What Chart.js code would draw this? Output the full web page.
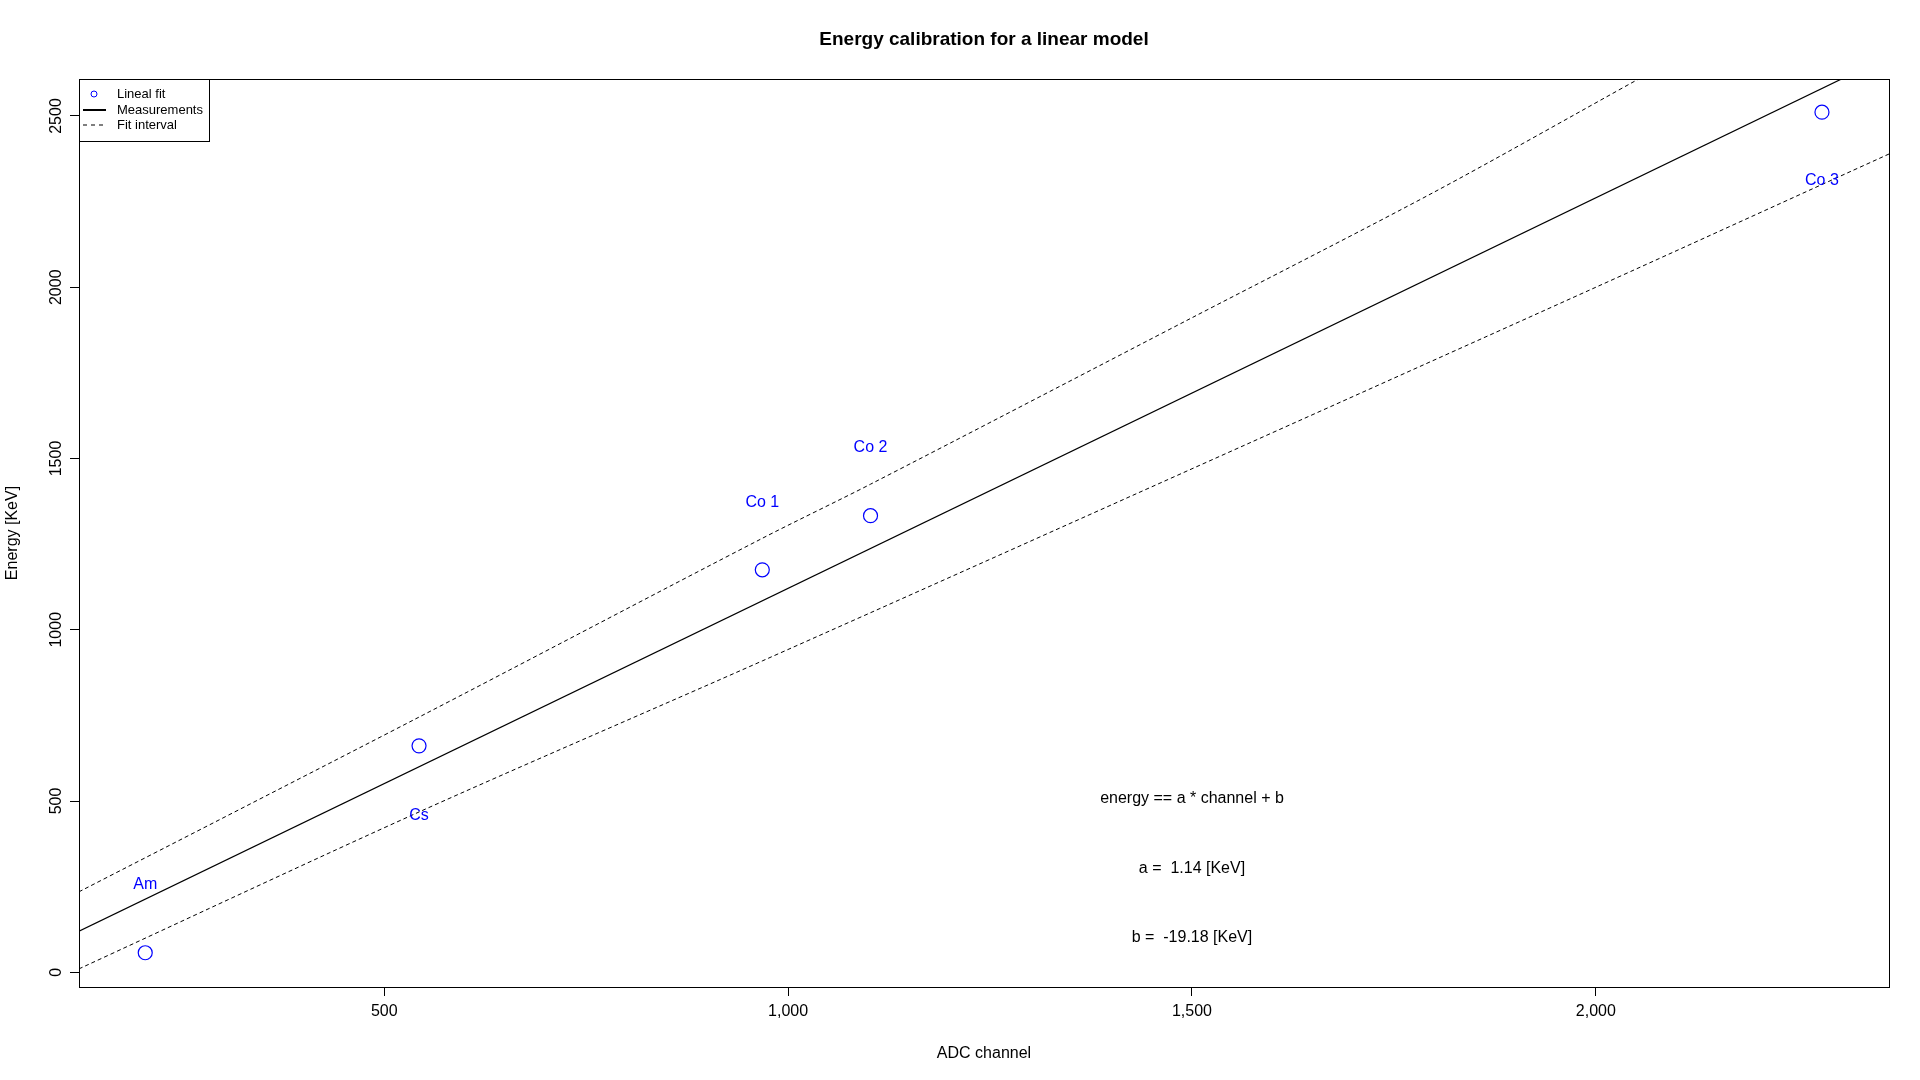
<!DOCTYPE html>
<html>
<head>
<script src="https://cdn.jsdelivr.net/npm/chart.js@4"></script>
<style>
  body { margin: 0; background: #fff; }
  #wrap { width: 1920px; height: 1080px; }
</style>
</head>
<body>
<div id="wrap"><canvas id="calib"></canvas></div>
<script>
// measured peaks
const sources = ['Am', 'Cs', 'Co 1', 'Co 2', 'Co 3'];
const channels = [204, 543, 968, 1102, 2280];
const energies = [57, 661, 1175, 1333, 2511];
const labelOffsets = [198, -205, 197, 200, -200];

// fit line and interval
const fitX = [122, 2363];
const fitY = [120, 2675];
const upperX = [122, 543, 968, 1102, 1500, 1800, 2053];
const upperY = [235, 745, 1267, 1425, 1911, 2278, 2608];
const lowerX = [122, 543, 968, 1500, 2000, 2363];
const lowerY = [10, 468, 909, 1470, 2000, 2389];

const xTicks = [500, 1000, 1500, 2000];
const yTicks = [0, 500, 1000, 1500, 2000, 2500];

const notes = [
    { x: 1500, y: 507, text: 'energy == a * channel + b' },
    { x: 1500, y: 302, text: 'a =  1.14 [KeV]' },
    { x: 1500, y: 101, text: 'b =  -19.18 [KeV]' }
];

const FONT = '"Liberation Sans", Arial, sans-serif';

function pts(xs, ys) {
    return xs.map((x, i) => ({ x: x, y: ys[i] }));
}

const decorPlugin = {
    id: 'decor',
    afterDraw(chart) {
        const ctx = chart.ctx;
        const a = chart.chartArea;
        const xs = chart.scales.x;
        const ys = chart.scales.y;
        ctx.save();
        // frame
        ctx.strokeStyle = '#000';
        ctx.lineWidth = 1;
        ctx.strokeRect(a.left + 0.5, a.top + 0.5, a.right - a.left, a.bottom - a.top);

        // y tick labels, rotated like R
        ctx.fillStyle = '#000';
        ctx.font = '16px ' + FONT;
        ctx.textAlign = 'center';
        ctx.textBaseline = 'bottom';
        yTicks.forEach(v => {
            const py = ys.getPixelForValue(v);
            ctx.save();
            ctx.translate(a.left - 14, py);
            ctx.rotate(-Math.PI / 2);
            ctx.fillText(String(v), 0, 0);
            ctx.restore();
        });

        // axis titles
        ctx.textBaseline = 'middle';
        ctx.fillText('ADC channel', (a.left + a.right) / 2, 1054);
        ctx.save();
        ctx.translate(13, (a.top + a.bottom) / 2);
        ctx.rotate(-Math.PI / 2);
        ctx.fillText('Energy [KeV]', 0, 0);
        ctx.restore();

        // title
        ctx.font = 'bold 19px ' + FONT;
        ctx.fillText('Energy calibration for a linear model', (a.left + a.right) / 2, 40);

        // point labels
        ctx.font = '16px ' + FONT;
        ctx.fillStyle = '#0000ff';
        sources.forEach((s, i) => {
            ctx.fillText(s, xs.getPixelForValue(channels[i]),
                ys.getPixelForValue(energies[i] + labelOffsets[i]));
        });

        // formula notes
        ctx.fillStyle = '#000';
        notes.forEach(n => {
            ctx.fillText(n.text, xs.getPixelForValue(n.x), ys.getPixelForValue(n.y));
        });

        // legend
        const lx = a.left, ly = a.top;
        ctx.strokeRect(lx + 0.5, ly + 0.5, 130, 62);
        ctx.font = '13px ' + FONT;
        ctx.textAlign = 'left';
        ctx.strokeStyle = '#0000ff';
        ctx.beginPath();
        ctx.arc(lx + 15, ly + 15, 3, 0, Math.PI * 2);
        ctx.stroke();
        ctx.fillText('Lineal fit', lx + 38, ly + 15);
        ctx.strokeStyle = '#000';
        ctx.lineWidth = 2;
        ctx.beginPath();
        ctx.moveTo(lx + 4, ly + 31); ctx.lineTo(lx + 27, ly + 31);
        ctx.stroke();
        ctx.fillText('Measurements', lx + 38, ly + 31);
        ctx.lineWidth = 1;
        ctx.setLineDash([4, 4]);
        ctx.beginPath();
        ctx.moveTo(lx + 4, ly + 46); ctx.lineTo(lx + 27, ly + 46);
        ctx.stroke();
        ctx.setLineDash([]);
        ctx.fillText('Fit interval', lx + 38, ly + 46);
        ctx.restore();
    }
};

document.addEventListener('DOMContentLoaded', function() {
    const ctx = document.getElementById('calib').getContext('2d');
    new Chart(ctx, {
        type: 'scatter',
        data: {
            datasets: [{
                data: pts(channels, energies),
                borderColor: '#0000ff',
                backgroundColor: 'rgba(0,0,0,0)',
                borderWidth: 1.2,
                pointRadius: 7
            }, {
                type: 'line',
                data: pts(fitX, fitY),
                borderColor: '#000',
                borderWidth: 1.2,
                pointRadius: 0
            }, {
                type: 'line',
                data: pts(upperX, upperY),
                borderColor: '#000',
                borderWidth: 1,
                borderDash: [4, 3],
                pointRadius: 0,
                tension: 0.3
            }, {
                type: 'line',
                data: pts(lowerX, lowerY),
                borderColor: '#000',
                borderWidth: 1,
                borderDash: [4, 3],
                pointRadius: 0,
                tension: 0.3
            }]
        },
        options: {
            responsive: true,
            maintainAspectRatio: false,
            animation: false,
            layout: { padding: { top: 79, right: 31, left: 0, bottom: 0 } },
            plugins: {
                legend: { display: false },
                tooltip: { enabled: false }
            },
            scales: {
                x: {
                    type: 'linear',
                    min: 122,
                    max: 2363,
                    afterBuildTicks: s => { s.ticks = xTicks.map(v => ({ value: v })); },
                    afterFit: s => { s.height = 93; },
                    grid: { drawOnChartArea: false, tickLength: 9, color: '#000' },
                    border: { display: false },
                    ticks: { color: '#000', font: { size: 16, family: FONT }, padding: 6, maxRotation: 0 }
                },
                y: {
                    min: -43,
                    max: 2608,
                    afterBuildTicks: s => { s.ticks = yTicks.map(v => ({ value: v })); },
                    afterFit: s => { s.width = 79; },
                    grid: { drawOnChartArea: false, tickLength: 9, color: '#000' },
                    border: { display: false },
                    ticks: { display: false }
                }
            }
        },
        plugins: [decorPlugin]
    });
});
</script>
</body>
</html>
